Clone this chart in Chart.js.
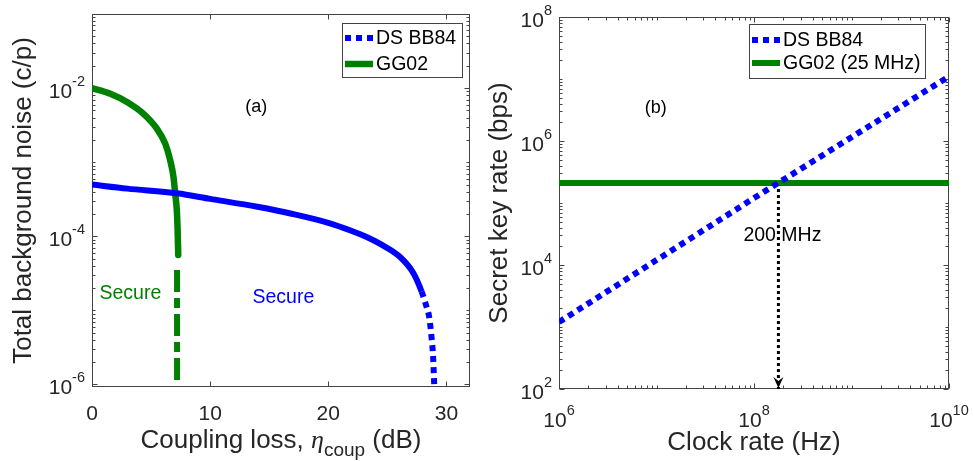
<!DOCTYPE html>
<html>
<head>
<meta charset="utf-8">
<script src="https://cdn.jsdelivr.net/npm/chart.js@4.4.1/dist/chart.umd.min.js"></script>
<style>
  html, body { margin: 0; padding: 0; background: #fff; }
  #wrap { position: relative; width: 974px; height: 461px; }
  canvas { position: absolute; top: 0; }
</style>
</head>
<body>
<div id="wrap">
  <canvas id="chartA" width="487" height="461" style="left:0"></canvas>
  <canvas id="chartB" width="487" height="461" style="left:487px"></canvas>
</div>
<script>
// panel (a): total background noise vs coupling loss
const lossBB84 = [0, 3, 7.2, 10, 14, 17, 20, 22, 23.25, 24.4, 26.06, 27.2, 27.9, 28.32, 28.54, 28.74, 28.88, 28.97];
const noiseBB84 = [5.0e-4, 4.4e-4, 3.8e-4, 3.2e-4, 2.5e-4, 2.0e-4, 1.52e-4, 1.18e-4, 9.8e-5, 7.9e-5, 5.3e-5, 3.2e-5, 1.8e-5, 1.12e-5, 8.2e-6, 4.4e-6, 2.3e-6, 1.0e-6];
const lossGG02 = [0, 1.55, 2.96, 4.36, 5.49, 6.2, 6.62, 6.9, 7.04, 7.18, 7.24, 7.3];
const noiseGG02 = [1.0e-2, 8.4e-3, 6.5e-3, 4.5e-3, 2.84e-3, 1.78e-3, 1.06e-3, 6.3e-4, 3.8e-4, 2.25e-4, 1.34e-4, 5.6e-5];
const lossGG02Tail = [7.2, 7.2];
const noiseGG02Tail = [3.5e-5, 1.0e-6];
const xTicksA = [0, 10, 20, 30];
const xLabelsA = ["0", "10", "20", "30"];
const yTicksA = [1e-6, 1e-4, 1e-2];
const yExpA = ["-6", "-4", "-2"];

// panel (b): secret key rate vs clock rate
const clockRates = [1e6, 1e7, 1e8, 1e9, 1e10];
const keyRateBB84 = [1.2e3, 1.2e4, 1.2e5, 1.15e6, 1.1e7];
const keyRateGG02 = [2.1e5, 2.1e5, 2.1e5, 2.1e5, 2.1e5];
const crossClock = [1.78e8, 1.78e8];
const crossRate = [2.1e5, 1e2];
const xTicksB = [1e6, 1e8, 1e10];
const xExpB = ["6", "8", "10"];
const yTicksB = [1e2, 1e4, 1e6, 1e8];
const yExpB = ["2", "4", "6", "8"];

const FONT = '"Liberation Sans", Arial, Helvetica, sans-serif';
const BLUE = "rgb(0,0,255)";
const GREEN = "rgb(0,128,0)";
const INK = "#262626";

function pts(xs, ys) {
  return xs.map((x, i) => ({ x: x, y: ys[i] }));
}

function minorLog(min, max, majors) {
  const out = [];
  for (let d = Math.floor(Math.log10(min)); d <= Math.ceil(Math.log10(max)); d++) {
    for (let k = 1; k <= 9; k++) {
      const v = k * Math.pow(10, d);
      if (v >= min && v <= max && !majors.some(m => Math.abs(m - v) / m < 1e-6)) out.push(v);
    }
  }
  return out;
}

// "10" with a superscript exponent, or a plain label when exp is empty
function drawLabel(ctx, base, exp, x, y, align) {
  ctx.font = "21px " + FONT;
  const wb = ctx.measureText(base).width;
  ctx.font = "14.5px " + FONT;
  const we = exp ? ctx.measureText(exp).width : 0;
  const w = wb + we;
  const x0 = align === "right" ? x - w : align === "center" ? x - w / 2 : x;
  ctx.textAlign = "left";
  ctx.textBaseline = "alphabetic";
  ctx.fillStyle = INK;
  ctx.font = "21px " + FONT;
  ctx.fillText(base, x0, y);
  if (exp) {
    ctx.font = "14.5px " + FONT;
    ctx.fillText(exp, x0 + wb, y - 12);
  }
}

const matlabAxes = {
  id: "matlabAxes",
  beforeDatasetsDraw(chart, args, o) {
    const ctx = chart.ctx, a = chart.chartArea;
    const xs = chart.scales.x, ys = chart.scales.y;
    const L = Math.round(a.left) + 0.5, R = Math.round(a.right) - 0.5;
    const T = Math.round(a.top) + 0.5, B = Math.round(a.bottom) - 0.5;
    ctx.save();
    ctx.strokeStyle = "#444";
    ctx.lineWidth = 1;
    ctx.strokeRect(L, T, R - L, B - T);
    const tick = (v, len, horiz) => {
      if (horiz) {
        const p = Math.round(xs.getPixelForValue(v)) + 0.5;
        ctx.moveTo(p, B); ctx.lineTo(p, B - len);
        ctx.moveTo(p, T); ctx.lineTo(p, T + len);
      } else {
        const p = Math.round(ys.getPixelForValue(v)) + 0.5;
        ctx.moveTo(L, p); ctx.lineTo(L + len, p);
        ctx.moveTo(R, p); ctx.lineTo(R - len, p);
      }
    };
    ctx.beginPath();
    o.xTicks.forEach(v => tick(v, 5, true));
    o.yTicks.forEach(v => tick(v, 5, false));
    if (o.xLog) minorLog(xs.min, xs.max, o.xTicks).forEach(v => tick(v, 3, true));
    minorLog(ys.min, ys.max, o.yTicks).forEach(v => tick(v, 3, false));
    ctx.stroke();
    ctx.restore();
  },
  afterDatasetsDraw(chart, args, o) {
    const ctx = chart.ctx, a = chart.chartArea;
    const xs = chart.scales.x, ys = chart.scales.y;
    ctx.save();
    // tick labels
    o.xTicks.forEach((v, i) => {
      drawLabel(ctx, o.xLog ? "10" : o.xLabels[i], o.xLog ? o.xLabels[i] : "", xs.getPixelForValue(v), a.bottom + o.xLabelDy, "center");
    });
    o.yTicks.forEach((v, i) => {
      drawLabel(ctx, "10", o.yLabels[i], a.left - 7, ys.getPixelForValue(v) + 10, "right");
    });
    // axis titles
    ctx.fillStyle = INK;
    ctx.textBaseline = "alphabetic";
    const parts = o.xTitle;
    let total = 0;
    parts.forEach(p => { ctx.font = p.font; p.w = ctx.measureText(p.t).width; total += p.w; });
    let cx = (a.left + a.right) / 2 - total / 2;
    parts.forEach(p => {
      ctx.font = p.font;
      ctx.textAlign = "left";
      ctx.fillText(p.t, cx, o.xTitleY + (p.dy || 0));
      cx += p.w;
    });
    ctx.save();
    ctx.translate(o.yTitleX, (a.top + a.bottom) / 2);
    ctx.rotate(-Math.PI / 2);
    ctx.font = "26px " + FONT;
    ctx.textAlign = "center";
    ctx.fillText(o.yTitle, 0, 0);
    ctx.restore();
    // text notes placed in data coordinates
    o.notes.forEach(n => {
      ctx.font = n.size + "px " + FONT;
      ctx.fillStyle = n.color;
      ctx.textAlign = "center";
      ctx.textBaseline = "middle";
      ctx.fillText(n.text, xs.getPixelForValue(n.x) + (n.dx || 0), ys.getPixelForValue(n.y));
    });
    // arrow head
    if (o.arrowAt) {
      const px = xs.getPixelForValue(o.arrowAt), py = a.bottom - 1;
      ctx.fillStyle = "#000";
      ctx.beginPath();
      ctx.moveTo(px, py);
      ctx.lineTo(px - 5, py - 11);
      ctx.lineTo(px, py - 7);
      ctx.lineTo(px + 5, py - 11);
      ctx.closePath();
      ctx.fill();
    }
    // legend
    const lg = o.legend;
    ctx.fillStyle = "#fff";
    ctx.fillRect(lg.x, lg.y, lg.w, lg.h);
    ctx.strokeStyle = "#444";
    ctx.lineWidth = 1;
    ctx.strokeRect(lg.x + 0.5, lg.y + 0.5, lg.w, lg.h);
    lg.rows.forEach((r, i) => {
      const ds = chart.data.datasets[i];
      const yy = lg.y + r;
      ctx.beginPath();
      ctx.setLineDash(ds.legendDash || []);
      ctx.lineCap = "butt";
      ctx.lineWidth = ds.borderWidth;
      ctx.strokeStyle = ds.borderColor;
      ctx.moveTo(lg.x + 3, yy);
      ctx.lineTo(lg.x + 31, yy);
      ctx.stroke();
      ctx.setLineDash([]);
      ctx.fillStyle = "#000";
      ctx.font = "19.5px " + FONT;
      ctx.textAlign = "left";
      ctx.textBaseline = "middle";
      ctx.fillText(ds.label, lg.x + 34, yy + 1);
    });
    ctx.restore();
  }
};

const hiddenScale = { display: false };

new Chart(document.getElementById("chartA"), {
  type: "line",
  data: {
    datasets: [
      {
        label: "DS BB84",
        data: pts(lossBB84, noiseBB84),
        borderColor: BLUE,
        borderWidth: 6,
        borderDash: [],
        legendDash: [6, 5],
        pointRadius: 0,
        cubicInterpolationMode: "monotone",
        segment: {
          // the steep tail shows separate dots, the flat part merges into a band
          borderDash: c => Math.abs(c.p1.y - c.p0.y) > 2.5 * Math.abs(c.p1.x - c.p0.x) ? [6, 5] : undefined
        }
      },
      {
        label: "GG02",
        data: pts(lossGG02, noiseGG02),
        borderColor: GREEN,
        borderWidth: 6.5,
        borderCapStyle: "round",
        pointRadius: 0,
        cubicInterpolationMode: "monotone"
      },
      {
        label: "GG02 tail",
        data: pts(lossGG02Tail, noiseGG02Tail),
        borderColor: GREEN,
        borderWidth: 6,
        borderDash: [22, 6, 10, 6],
        pointRadius: 0
      }
    ]
  },
  options: {
    responsive: false,
    animation: false,
    layout: { autoPadding: false, padding: { left: 92, right: 17, top: 14, bottom: 74 } },
    scales: {
      x: Object.assign({ type: "linear", min: 0, max: 32 }, hiddenScale),
      y: Object.assign({ type: "logarithmic", min: 9.25e-7, max: 0.1 }, hiddenScale)
    },
    plugins: {
      legend: { display: false },
      tooltip: { enabled: false },
      matlabAxes: {
        xLog: false,
        xTicks: xTicksA,
        xLabels: xLabelsA,
        yTicks: yTicksA,
        yLabels: yExpA,
        xLabelDy: 33,
        xTitleY: 448,
        xTitle: [
          { t: "Coupling loss, ", font: "26px " + FONT },
          { t: "\u03b7", font: "italic 26px \"Liberation Serif\", serif" },
          { t: "coup", font: "19px " + FONT, dy: 8 },
          { t: " (dB)", font: "26px " + FONT }
        ],
        yTitleX: 31,
        yTitle: "Total background noise (c/p)",
        notes: [
          { text: "(a)", x: 13.9, y: 5.5e-3, size: 18, color: "#000" },
          { text: "Secure", x: 3.25, y: 1.7e-5, size: 19.5, color: GREEN },
          { text: "Secure", x: 16.2, y: 1.5e-5, size: 19.5, color: BLUE }
        ],
        legend: { x: 342, y: 23, w: 120, h: 54, rows: [15, 41] }
      }
    }
  },
  plugins: [matlabAxes]
});

new Chart(document.getElementById("chartB"), {
  type: "line",
  data: {
    datasets: [
      {
        label: "DS BB84",
        data: pts(clockRates, keyRateBB84),
        borderColor: BLUE,
        borderWidth: 6,
        borderDash: [6, 5],
        legendDash: [6, 5],
        pointRadius: 0
      },
      {
        label: "GG02 (25 MHz)",
        data: pts(clockRates, keyRateGG02),
        borderColor: GREEN,
        borderWidth: 6,
        pointRadius: 0
      },
      {
        label: "200 MHz",
        data: pts(crossClock, crossRate),
        borderColor: "#000",
        borderWidth: 3,
        borderDash: [3, 3],
        pointRadius: 0
      }
    ]
  },
  options: {
    responsive: false,
    animation: false,
    layout: { autoPadding: false, padding: { left: 72, right: 25, top: 17, bottom: 72 } },
    scales: {
      x: Object.assign({ type: "logarithmic", min: 1e6, max: 1e10 }, hiddenScale),
      y: Object.assign({ type: "logarithmic", min: 1e2, max: 1e8 }, hiddenScale)
    },
    plugins: {
      legend: { display: false },
      tooltip: { enabled: false },
      matlabAxes: {
        xLog: true,
        xTicks: xTicksB,
        xLabels: xExpB,
        yTicks: yTicksB,
        yLabels: yExpB,
        xLabelDy: 38,
        xTitleY: 450,
        xTitle: [{ t: "Clock rate (Hz)", font: "26px " + FONT }],
        yTitleX: 20,
        yTitle: "Secret key rate (bps)",
        notes: [
          { text: "(b)", x: 9.8e6, y: 3.4e6, size: 18, color: "#000" },
          { text: "200 MHz", x: 1.78e8, dx: 4, y: 3e4, size: 19.5, color: "#000" }
        ],
        arrowAt: 1.78e8,
        legend: { x: 262, y: 24, w: 176, h: 54, rows: [16, 39] }
      }
    }
  },
  plugins: [matlabAxes]
});
</script>
</body>
</html>
